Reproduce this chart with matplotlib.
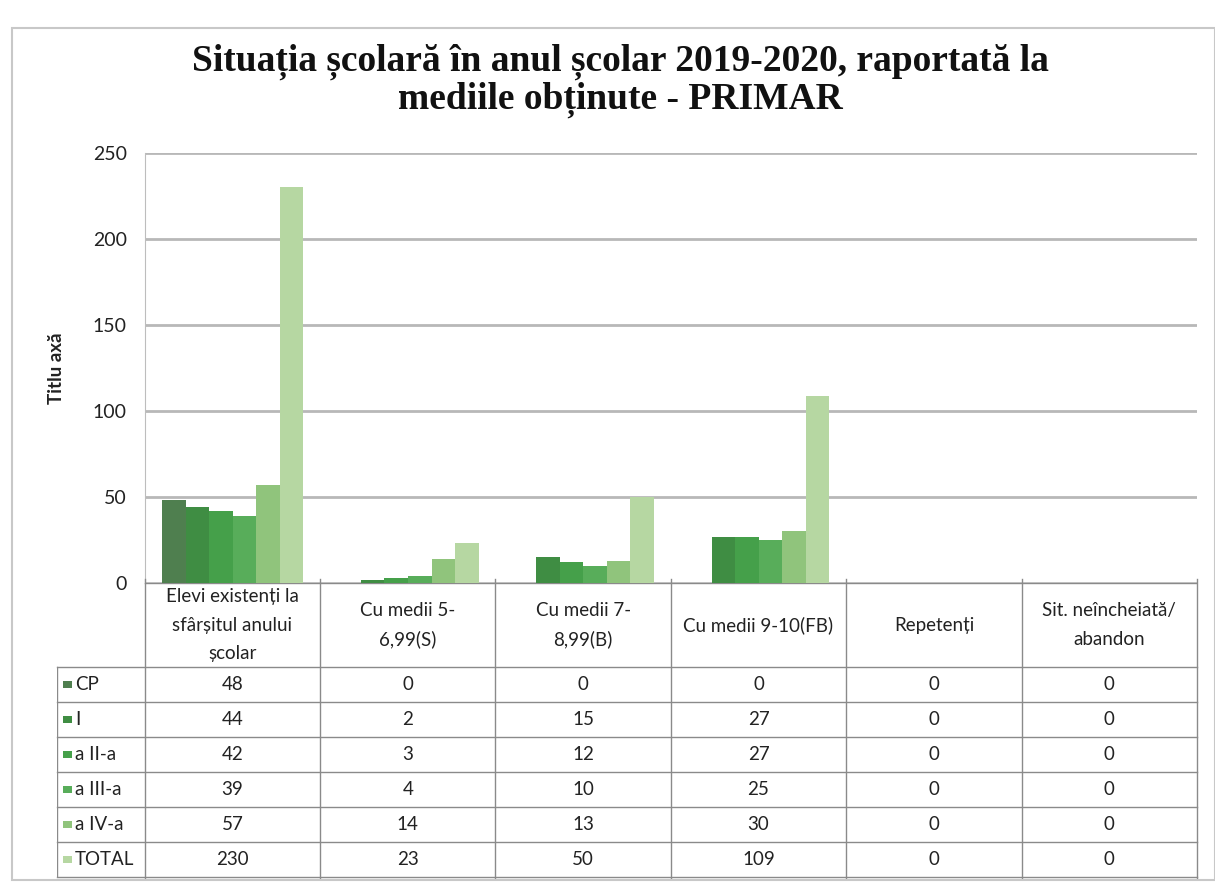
import matplotlib.pyplot as plt
from matplotlib.patches import Rectangle

# data
categories = ["Elevi existenți la\nsfârșitul anului\nșcolar", "Cu medii 5-\n6,99(S)", "Cu medii 7-\n8,99(B)",
              "Cu medii 9-10(FB)", "Repetenți", "Sit. neîncheiată/\nabandon"]
series = ["CP", "I", "a II-a", "a III-a", "a IV-a", "TOTAL"]
cp = [48, 0, 0, 0, 0, 0]
cls1 = [44, 2, 15, 27, 0, 0]
cls2 = [42, 3, 12, 27, 0, 0]
cls3 = [39, 4, 10, 25, 0, 0]
cls4 = [57, 14, 13, 30, 0, 0]
total = [230, 23, 50, 109, 0, 0]
values = [cp, cls1, cls2, cls3, cls4, total]
colors = ["#4f7f4f", "#3f8d43", "#45a04a", "#58ad5a", "#90c47c", "#b6d7a2"]

W, H = 1215, 882
fig = plt.figure(figsize=(W / 100, H / 100), dpi=100)
plt.rcParams['font.family'] = ['Lato', 'DejaVu Sans']

def fx(px):
    return px / W

def fy(py):
    return 1 - py / H

# outer chart frame
fig.patches.append(Rectangle((fx(12), fy(880)), fx(1215) - fx(12), fy(28) - fy(880),
                             transform=fig.transFigure, fill=False, ec="#c8c8c8", lw=1.5))

fig.text(fx(620), fy(81), "Situația școlară în anul școlar 2019-2020, raportată la\nmediile obținute - PRIMAR",
         ha="center", va="center", fontsize=27, fontweight="bold", family="Liberation Serif",
         linespacing=1.05, color="#111111")

# bar area
ax = fig.add_axes([fx(145), fy(583), fx(1197) - fx(145), fy(153) - fy(583)])
n = len(series)
bw = 0.1345
for j, (name, vals) in enumerate(zip(series, values)):
    xs = [i + (j - (n - 1) / 2) * bw for i in range(len(categories))]
    ax.bar(xs, vals, width=bw, color=colors[j], zorder=3, label=name)

ax.set_xlim(-0.5, 5.5)
ax.set_ylim(0, 250)
ax.set_yticks(range(0, 251, 50))
ax.set_xticks([])
ax.yaxis.grid(True, color="#b8b8b8", lw=2)
ax.set_axisbelow(True)
for s in ["top", "right", "bottom"]:
    ax.spines[s].set_visible(False)
ax.spines["left"].set_color("#bdbdbd")
ax.tick_params(axis="y", length=0, pad=13, labelsize=14, labelcolor="#222222")
fig.text(fx(56), fy(368), "Titlu axă", rotation=90, ha="center", va="center",
         fontsize=13.5, fontweight="bold", color="#222222")

# data table below the bars
tab = fig.add_axes([fx(57), fy(878), fx(1197) - fx(57), fy(583) - fy(878)])
tab.set_xlim(-1.0, 5.5)
tab.set_ylim(295, 0)
tab.axis("off")
head_h, row_h = 84, 35
lc = "#8a8a8a"
for k in range(len(categories) + 1):
    x = k - 0.5
    tab.plot([x, x], [-4, 295], color=lc, lw=1, clip_on=False)
tab.plot([-1.0, -1.0], [head_h, 295], color=lc, lw=1)
tab.plot([-0.5, 5.5], [0, 0], color=lc, lw=1)
for r in range(len(series) + 1):
    y = head_h + r * row_h
    tab.plot([-1.0, 5.5], [y, y], color=lc, lw=1, clip_on=False)

for i, cat in enumerate(categories):
    tab.text(i, head_h / 2, cat, ha="center", va="center", fontsize=13.5, color="#222222", linespacing=1.8)

for j, (name, vals) in enumerate(zip(series, values)):
    yc = head_h + (j + 0.5) * row_h
    tab.add_patch(Rectangle((-0.966, yc - 3.5), 0.051, 7, color=colors[j], lw=0))
    tab.text(-0.897, yc, name, ha="left", va="center", fontsize=13.5, color="#222222")
    for i, v in enumerate(vals):
        tab.text(i, yc, str(v), ha="center", va="center", fontsize=13.5, color="#222222")

fig.savefig("out.png", dpi=100)
